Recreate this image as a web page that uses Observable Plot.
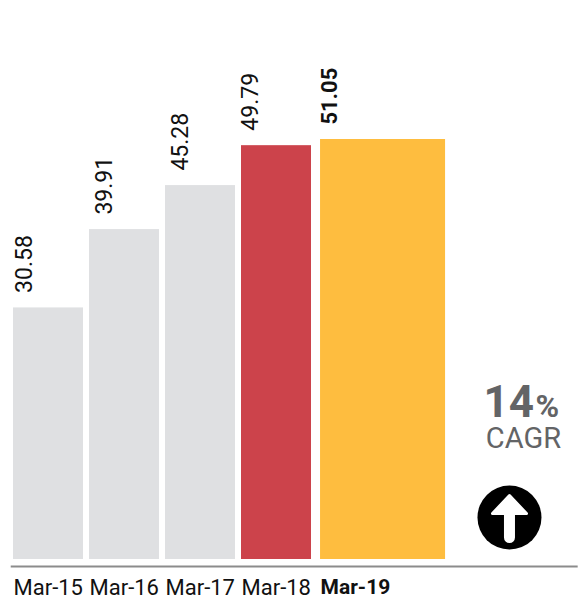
<!DOCTYPE html>
<html>
<head>
<meta charset="utf-8">
<script src="https://cdn.jsdelivr.net/npm/d3@7"></script>
<script src="https://cdn.jsdelivr.net/npm/@observablehq/plot@0.6"></script>
<style>html,body{margin:0;padding:0;background:#fff}svg{display:block}</style>
</head>
<body>
<div id="chart"></div>
<script>
// Data
const periods = ["Mar-15", "Mar-16", "Mar-17", "Mar-18", "Mar-19"];
const printedValues = ["30.58", "39.91", "45.28", "49.79", "51.05"];
// The reference's bars are not strictly proportional to their printed labels:
// these are the bar levels, in the same units.
const barLevels = [30.58, 40.1, 45.45, 50.3, 51.05];
const cagrValue = "14";
const cagrUnit = "%";
const cagrLabel = "CAGR";

// Layout and style
const barColors = ["#dfe0e2", "#dfe0e2", "#dfe0e2", "#cc434b", "#febd3f"];
const slotWeights = [1, 1, 1, 1.04, 1.645];
const barSpans = [0.921, 0.921, 0.921, 0.921, 1.645];
const labelNudge = [0.026, 0.079, 0.079, 0, 0];
const font = "Roboto, sans-serif";
const grey = "#636466";

const starts = d3.cumsum([0, ...slotWeights.slice(0, -1)]);
const rows = periods.map((period, i) => ({
  period, printed: printedValues[i], level: barLevels[i],
  x1: starts[i], x2: starts[i] + barSpans[i],
  labelX: starts[i] + labelNudge[i] + 0.118, strong: i === periods.length - 1
}));

const arrow = {
  draw(c) {
    c.moveTo(0, -22);
    c.lineTo(17, -4);
    c.lineTo(4, -4);
    c.lineTo(4, 20);
    c.arc(0, 20, 4, 0, Math.PI);
    c.lineTo(-4, -4);
    c.lineTo(-17, -4);
    c.closePath();
  }
};

const valueLabel = (data, weight, size) => Plot.text(data, {
  x: "labelX", y: "level", text: "printed", rotate: -90, textAnchor: "start",
  lineAnchor: "middle", dy: -15, fontSize: size, fontFamily: font, fontWeight: weight, fill: "#111"
});
const periodLabel = (data, weight, size) => Plot.text(data, {
  x: "x1", y: 0, text: "period", textAnchor: "start", lineAnchor: "middle",
  dy: 28, fontSize: size, fontFamily: font, fontWeight: weight, fill: "#111"
});
const note = (text, x, y, size, weight, anchor) => Plot.text([text], {
  x, y, text: d => d, fontSize: size, fontWeight: weight, fontFamily: font,
  fill: grey, textAnchor: anchor, lineAnchor: "bottom"
});

const chart = Plot.plot({
  width: 582, height: 601, margin: 0, style: {background: "#fff"},
  x: {axis: null, type: "linear", domain: [0, 7.5], range: [13, 583]},
  y: {axis: null, domain: [0, 51.05], range: [559, 139]},
  color: {domain: periods, range: barColors},
  marks: [
    Plot.rectY(rows, {x1: "x1", x2: "x2", y1: 0, y2: "level", fill: "period"}),
    Plot.ruleY([0], {x1: -0.03, x2: 7.43, dy: 7, stroke: "#8c8c8c", strokeWidth: 2}),
    valueLabel(rows.filter(d => !d.strong), 400, 23),
    valueLabel(rows.filter(d => d.strong), 700, 22),
    periodLabel(rows.filter(d => !d.strong), 400, 22),
    periodLabel(rows.filter(d => d.strong), 700, 21),
    note(cagrValue, 6.85, 17.35, 44, 700, "end"),
    note(cagrUnit, 6.87, 17.35, 32, 700, "start"),
    note(cagrLabel, 6.71, 13.5, 29, 400, "middle"),
    Plot.dot([0], {x: () => 6.526, y: () => 5.1, r: 32, fill: "#000"}),
    Plot.vector([0], {
      x: () => 6.526, y: () => 5.1, length: () => 40, anchor: "start", shape: arrow,
      fill: "#fff", stroke: "#fff", strokeWidth: 3, strokeLinejoin: "round"
    })
  ]
});
document.getElementById("chart").append(chart);
</script>
</body>
</html>
